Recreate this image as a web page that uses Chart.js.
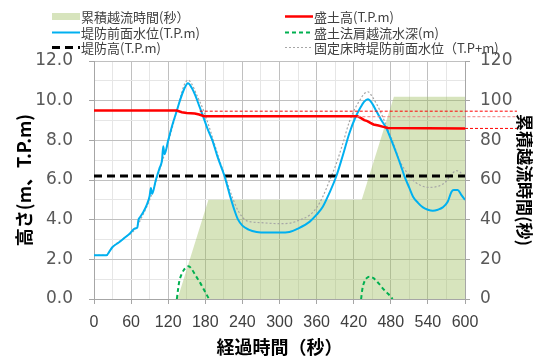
<!DOCTYPE html>
<html><head><meta charset="utf-8">
<script src="https://cdn.jsdelivr.net/npm/chart.js@4.4.0/dist/chart.umd.min.js"></script>
<style>
html,body{margin:0;padding:0;background:#fff;}
#wrap{position:relative;width:542px;height:359px;overflow:hidden;}
canvas{position:absolute;left:0;top:0;}
#legend{position:absolute;left:0;top:0;width:542px;height:56px;font-family:"Noto Sans CJK JP","Noto Sans",sans-serif;font-size:13px;color:#404040;}
.item{position:absolute;height:15px;line-height:15px;white-space:nowrap;}
.item svg{position:absolute;left:0;top:0;}
.lbl{position:absolute;left:29px;top:0;}
</style></head>
<body><div id="wrap"><canvas id="c" width="542" height="359"></canvas><div id="legend"></div></div>
<script>
// ---- data ----
const waterTime  = [0,20,25,30,40,50,58,66,70,72,74,80,86,90,92,94,100,106,110,112,114,120,126,134,140,146,152,158,164,170,176,184,192,200,211,220,228,233,240,250,263,280,300,316,330,349,360,370,380,392,402,413,422,430,437,443,450,457,465,473,481,489,496,502,510,516,524,532,540,548,556,564,572,578,582,588,594,600];
const waterLevel = [2.2,2.2,2.4,2.62,2.85,3.1,3.3,3.55,3.6,4.0,4.1,4.4,4.8,5.2,5.6,5.3,6.0,6.6,7.0,7.7,7.3,8.0,8.7,9.5,10.1,10.6,10.88,10.65,10.25,9.75,9.25,8.55,7.95,7.15,6.2,5.2,4.4,4.0,3.7,3.5,3.38,3.35,3.35,3.38,3.55,3.9,4.25,4.65,5.3,6.2,7.2,8.36,9.1,9.6,9.95,10.07,9.85,9.45,9.0,8.6,8.0,7.35,6.75,6.2,5.6,5.16,4.85,4.62,4.5,4.45,4.5,4.62,4.9,5.4,5.5,5.5,5.25,5.0];

const fixedTime  = [0,20,30,50,66,80,90,100,110,120,128,134,140,146,152,158,166,176,186,194,204,214,224,234,244,252,270,300,316,330,349,360,370,380,392,402,413,422,430,437,443,450,462,470,478,486,494,502,511,519,527,535,543,552,562,570,575,580,586,592,597,600];
const fixedLevel = [2.2,2.2,2.62,3.1,3.5,4.3,5.0,5.9,6.9,7.9,8.8,9.5,10.2,10.8,11.04,10.85,10.3,9.6,8.7,7.9,6.9,6.0,5.1,4.4,4.0,3.9,3.85,3.8,3.82,3.95,4.24,4.6,5.16,5.9,6.84,7.8,8.94,9.6,10.03,10.35,10.45,10.2,9.53,8.95,8.36,7.7,7.0,6.55,6.2,5.9,5.75,5.65,5.63,5.65,5.75,5.95,6.17,6.35,6.47,6.4,6.2,6.1];

const fillTime   = [0,134,142,150,163,170,178,426,432,437,442,447,452,460,468,475,600];
const fillHeight = [9.5,9.5,9.42,9.38,9.35,9.3,9.22,9.22,9.12,9.02,8.97,8.88,8.8,8.75,8.68,8.62,8.6];

const overflowTime  = [134,136,138,141,145,150,153,158,165,172,179,186,300,432,434,437,441,446,452,460,468,476,483];
const overflowDepth = [0,0.5,0.9,1.2,1.45,1.6,1.65,1.5,1.15,0.8,0.4,0,null,0,0.5,0.85,1.05,1.13,1.05,0.8,0.5,0.25,0];

const cumTime    = [0,135,185,433,485,600];
const cumSeconds = [0,0,50,50,102,102];

const leveeTime   = [0,600];
const leveeHeight = [6.2,6.2];

const refLevel = [9.47,9.19,8.6];
const refStart = [171,426,600];
const refEnd   = [684,684,684];

// ---- build chart ----
const pts = (xs, ys) => xs.map((x, i) => ({x: x, y: ys[i]}));

const datasets = [
  {label:'累積越流時間(秒）', data:pts(cumTime,cumSeconds), yAxisID:'y2', backgroundColor:'rgba(155,187,89,0.4)', borderColor:'rgba(0,0,0,0)', borderWidth:0, fill:'origin', pointRadius:0, order:10, legendKind:'box', legendPos:0},
  {label:'堤防前面水位(T.P.m)', data:pts(waterTime,waterLevel), yAxisID:'y', borderColor:'#00b0f0', borderWidth:2, fill:false, pointRadius:0, cubicInterpolationMode:'monotone', order:3, legendPos:1},
  {label:'堤防高(T.P.m)', data:pts(leveeTime,leveeHeight), yAxisID:'y', borderColor:'#000000', borderWidth:3, borderDash:[8,5], fill:false, pointRadius:0, order:5, legendPos:2},
  {label:'盛土高(T.P.m)', data:pts(fillTime,fillHeight), yAxisID:'y', borderColor:'#ff0000', borderWidth:2.5, fill:false, pointRadius:0, order:2, legendPos:3},
  {label:'盛土法肩越流水深(m)', data:pts(overflowTime,overflowDepth), yAxisID:'y', borderColor:'#00b050', borderWidth:2, borderDash:[4,3], fill:false, pointRadius:0, spanGaps:false, cubicInterpolationMode:'monotone', order:4, legendPos:4},
  {label:'固定床時堤防前面水位（T.P+m)', data:pts(fixedTime,fixedLevel), yAxisID:'y', borderColor:'#a6a6a6', borderWidth:1.2, borderDash:[2,2], fill:false, pointRadius:0, cubicInterpolationMode:'monotone', order:6, legendPos:5}
];
refLevel.forEach((lv, i) => {
  datasets.push({label:'', data:[{x:refStart[i],y:lv},{x:refEnd[i],y:lv}], yAxisID:'y', borderColor: i===1?'#f08080':'#ff0000', borderWidth:1, borderDash:[3,2], fill:false, pointRadius:0, clip:false, order:1});
});

const tickFont = {family:'DejaVu Sans', size:17};
new Chart(document.getElementById('c'), {
  type:'line',
  data:{datasets:datasets},
  options:{
    responsive:false, animation:false, devicePixelRatio:1,
    layout:{padding:{top:61,left:0,right:0,bottom:0}},
    plugins:{legend:{display:false}, tooltip:{enabled:false}},
    scales:{
      x:{type:'linear', min:0, max:600,
        ticks:{stepSize:30, autoSkip:false, maxRotation:0, callback:v => v%60===0 ? String(v) : '', font:{family:'Liberation Sans', size:16}, color:'#404040', padding:9},
        grid:{color:c => (c.tick && c.tick.value%60===0) ? '#c0c0c0' : '#e6e6e6', tickLength:5, tickColor:c => (c.tick && c.tick.value%60===0) ? '#a6a6a6' : 'rgba(0,0,0,0)'},
        border:{color:'#a6a6a6'},
        title:{display:true, text:'経過時間（秒）', font:{family:'Noto Sans CJK JP', size:18, weight:'bold'}, color:'#000', padding:{top:0,bottom:1}},
        afterFit:s => { s.height = 60; }
      },
      y:{position:'left', min:0, max:12,
        ticks:{stepSize:1, autoSkip:false, callback:v => v%2===0 ? v.toFixed(1) : '', font:tickFont, color:'#595959', padding:16},
        grid:{color:c => (c.tick && c.tick.value%2===0) ? '#c0c0c0' : '#e6e6e6', tickLength:5, tickColor:c => (c.tick && c.tick.value%2===0) ? '#a6a6a6' : 'rgba(0,0,0,0)'},
        border:{color:'#a6a6a6'},
        title:{display:true, text:'高さ(m、T.P.m)', font:{family:'Noto Sans CJK JP', size:18, weight:'bold'}, color:'#000', padding:{top:13,bottom:0}},
        afterFit:s => { s.width = 94; }
      },
      y2:{position:'right', min:0, max:120,
        ticks:{stepSize:20, font:tickFont, color:'#595959', padding:10},
        grid:{drawOnChartArea:false, tickLength:5, tickColor:'#a6a6a6'},
        border:{color:'#a6a6a6'},
        title:{display:true, text:'累積越流時間(秒)', font:{family:'Noto Sans CJK JP', size:17, weight:'bold'}, color:'#000', padding:{top:7,bottom:0}},
        afterFit:s => { s.width = 77; }
      }
    }
  }
});

// ---- HTML legend built from the dataset definitions ----
const legend = document.getElementById('legend');
const colX = [52, 285], rowY = [9, 25, 40];
datasets.filter(d => d.legendPos !== undefined).forEach(d => {
  const col = d.legendPos < 3 ? 0 : 1, row = d.legendPos % 3;
  const it = document.createElement('div');
  it.className = 'item';
  it.style.left = colX[col] + 'px';
  it.style.top = rowY[row] + 'px';
  let sym;
  if (d.legendKind === 'box') {
    sym = '<svg width="28" height="15"><rect x="0" y="4" width="28" height="7" fill="' + d.backgroundColor + '"/></svg>';
  } else {
    const dash = d.borderDash ? d.borderDash.join(',') : 'none';
    sym = '<svg width="28" height="15"><line x1="0" y1="7.5" x2="28" y2="7.5" stroke="' + d.borderColor + '" stroke-width="' + d.borderWidth + '" stroke-dasharray="' + dash + '"/></svg>';
  }
  it.innerHTML = sym + '<span class="lbl"></span>';
  it.querySelector('.lbl').textContent = d.label;
  legend.appendChild(it);
});
</script>
</body></html>
